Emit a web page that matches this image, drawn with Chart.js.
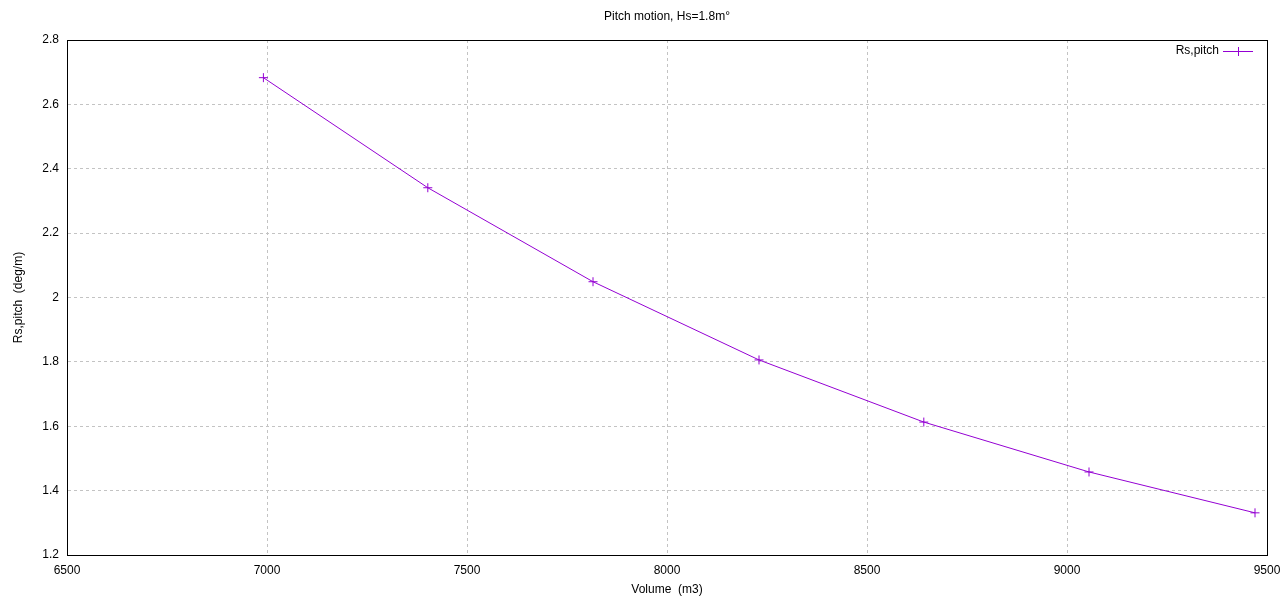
<!DOCTYPE html>
<html>
<head>
<meta charset="utf-8">
<script src="https://cdn.jsdelivr.net/npm/chart.js@4"></script>
<style>
  html, body { margin: 0; padding: 0; background: #fff; }
  #wrap { width: 1282px; height: 599px; }
</style>
</head>
<body>
<div id="wrap"><canvas id="chart" width="1282" height="599"></canvas></div>
<script>
// data
const volume = [6991, 7402, 7815, 8230, 8642, 9055, 9470]
const rsPitch = [2.683, 2.341, 2.049, 1.806, 1.613, 1.458, 1.331]
const xTicks = [6500, 7000, 7500, 8000, 8500, 9000, 9500]
const yTicks = [1.2, 1.4, 1.6, 1.8, 2, 2.2, 2.4, 2.6, 2.8]

const titleText = 'Pitch motion, Hs=1.8m°'
const seriesName = 'Rs,pitch'
const lineColor = 'rgb(148,0,211)'
const fontFamily = '"Liberation Sans", Arial, sans-serif'

// frame, title and legend drawn gnuplot-style
const gnuplotBits = {
    id: 'gnuplotBits',
    afterDatasetsDraw(chart) {
        const ctx = chart.ctx
        const a = chart.chartArea
        ctx.save()
        ctx.strokeStyle = '#000'
        ctx.lineWidth = 1
        ctx.setLineDash([])
        ctx.strokeRect(Math.round(a.left) + 0.5, Math.round(a.top) + 0.5,
            Math.round(a.right - a.left), Math.round(a.bottom - a.top))

        ctx.fillStyle = '#000'
        ctx.font = '12px ' + fontFamily
        ctx.textAlign = 'center'
        ctx.textBaseline = 'middle'
        ctx.fillText(titleText, (a.left + a.right) / 2, 17)

        // legend, top right inside the plot
        const ly = a.top + 11
        const lx = a.right - 14
        ctx.textAlign = 'right'
        ctx.fillText(seriesName, lx - 34, ly)
        ctx.strokeStyle = lineColor
        ctx.beginPath()
        ctx.moveTo(lx - 30, ly + 0.5)
        ctx.lineTo(lx, ly + 0.5)
        ctx.moveTo(lx - 14.5, ly - 4)
        ctx.lineTo(lx - 14.5, ly + 5)
        ctx.stroke()
        ctx.restore()
    }
}

const gridStyle = {
    color: 'rgb(195,195,195)',
    drawTicks: false
}
const borderStyle = { display: true, color: '#000', dash: [3, 3] }

new Chart(document.getElementById('chart'), {
    type: 'line',
    data: {
        datasets: [{
            label: seriesName,
            data: volume.map((v, i) => ({ x: v, y: rsPitch[i] })),
            borderColor: lineColor,
            backgroundColor: lineColor,
            borderWidth: 1,
            pointStyle: 'cross',
            pointRadius: 4.5,
            pointBorderWidth: 1,
            pointHoverRadius: 4.5,
            tension: 0,
            fill: false
        }]
    },
    options: {
        responsive: false,
        animation: false,
        events: [],
        layout: { padding: { top: 40, right: 15, left: 0, bottom: 0 } },
        plugins: {
            legend: { display: false },
            title: { display: false },
            tooltip: { enabled: false }
        },
        scales: {
            x: {
                type: 'linear',
                min: 6500,
                max: 9500,
                afterBuildTicks(scale) { scale.ticks = xTicks.map(v => ({ value: v })) },
                afterFit(scale) {
                    scale.height = 44
                    scale.paddingLeft = 0
                    scale.paddingRight = 0
                },
                grid: gridStyle,
                border: borderStyle,
                ticks: {
                    padding: 8,
                    color: '#000',
                    maxRotation: 0,
                    font: { family: fontFamily, size: 12 },
                    callback: v => String(v)
                },
                title: {
                    display: true,
                    text: 'Volume  (m3)',
                    color: '#000',
                    font: { family: fontFamily, size: 12 },
                    padding: { top: 0, bottom: 2 }
                }
            },
            y: {
                type: 'linear',
                min: 1.2,
                max: 2.8,
                afterBuildTicks(scale) { scale.ticks = yTicks.map(v => ({ value: v })) },
                afterFit(scale) {
                    scale.width = 67
                    scale.paddingTop = 0
                    scale.paddingBottom = 0
                },
                grid: gridStyle,
                border: borderStyle,
                ticks: {
                    padding: 8,
                    color: '#000',
                    font: { family: fontFamily, size: 12 },
                    callback: v => String(Math.round(v * 10) / 10)
                },
                title: {
                    display: true,
                    text: 'Rs,pitch  (deg/m)',
                    color: '#000',
                    font: { family: fontFamily, size: 12 },
                    padding: { top: 11, bottom: 0 }
                }
            }
        }
    },
    plugins: [gnuplotBits]
})
</script>
</body>
</html>
